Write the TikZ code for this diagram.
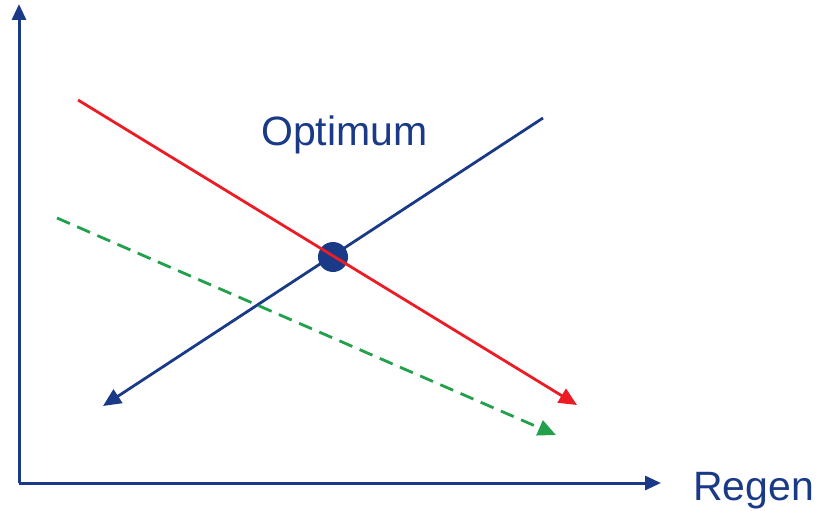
\documentclass[tikz,border=0pt]{standalone}
\usepackage{fontspec}
\setmainfont{Liberation Sans}
\usetikzlibrary{arrows.meta}
\definecolor{navy}{HTML}{1A3A88}
\definecolor{redline}{HTML}{EC1C24}
\definecolor{greenline}{HTML}{22A04C}
\begin{document}
\begin{tikzpicture}[x=1pt,y=-1pt,
  axis/.style={draw=navy,line width=3pt,-{Triangle[length=16pt,width=14pt]}},
  curve/.style={line width=2.8pt,-{Triangle[length=18pt,width=16pt]}},
  lbl/.style={text=navy,font=\fontsize{41}{41}\selectfont,inner sep=0pt}]
\useasboundingbox (0,0) rectangle (822,511);
\coordinate (O) at (19,483);
\coordinate (ytop) at (19,4);
\coordinate (xend) at (661,483);
\draw[axis] (O) -- (ytop);
\draw[axis] (O) -- (xend);
\node[lbl,anchor=base west] (regen) at (693,500) {Regen};
\node[lbl,anchor=base west] (opt) at (261,145) {Optimum};
\coordinate (r1) at (78,100);
\coordinate (r2) at (577,405);
\coordinate (b1) at (543,118);
\coordinate (b2) at (103,406);
\coordinate (g1) at (57,218);
\coordinate (g2) at (556,435);
\draw[curve,draw=navy,fill=navy] (b1) -- (b2);
\draw[curve,draw=greenline,dash pattern=on 14pt off 8pt] (g1) -- (g2);
\node[circle,fill=navy,minimum size=30pt,inner sep=0pt] (dot) at (333,257) {};
\draw[curve,draw=redline] (r1) -- (r2);
\end{tikzpicture}
\end{document}
